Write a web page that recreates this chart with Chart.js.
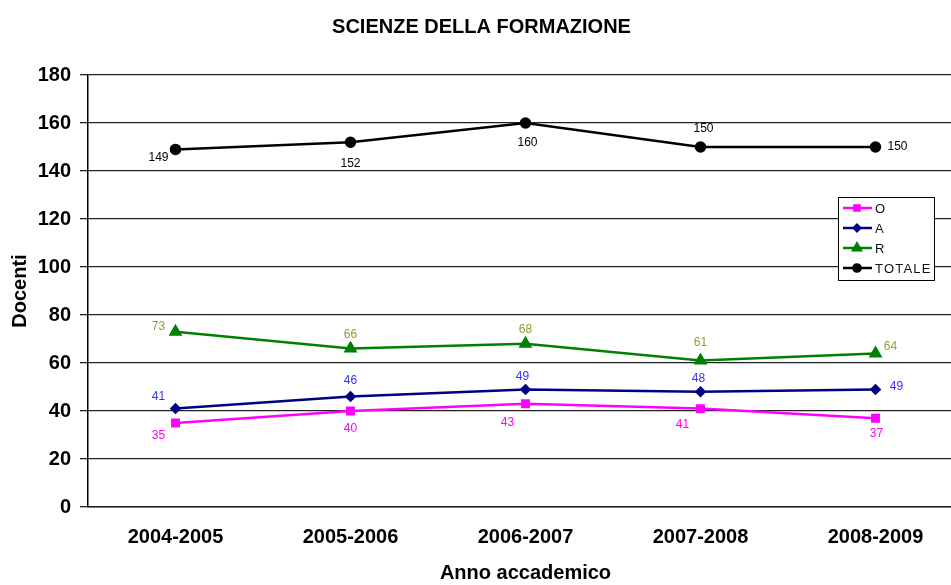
<!DOCTYPE html>
<html>
<head>
<meta charset="utf-8">
<script src="https://cdn.jsdelivr.net/npm/chart.js@4/dist/chart.umd.min.js"></script>
<style>
    html, body { margin: 0; padding: 0; background: #fff; overflow: hidden; }
    #wrap { width: 975px; height: 585px; }
</style>
</head>
<body>
<div id="wrap"><canvas id="docentiChart" width="975" height="585"></canvas></div>
<script>
// Dati del grafico
const anni = ['2004-2005', '2005-2006', '2006-2007', '2007-2008', '2008-2009'];
const serieO = [35, 40, 43, 41, 37];
const serieA = [41, 46, 49, 48, 49];
const serieR = [73, 66, 68, 61, 64];
const serieTotale = [149, 152, 160, 150, 150];

// spostamento delle etichette rispetto al punto (px)
const labelOffsets = {
    O: [[-17, 13], [0, 18], [-18, 19], [-18, 16], [1, 15]],
    A: [[-17, -12], [0, -16], [-3, -13], [-2, -13], [21, -3]],
    R: [[-17, -5], [0, -14], [0, -14], [0, -18], [15, -7]],
    TOTALE: [[-17, 8], [0, 21], [2, 20], [3, -18], [22, 0]]
};
const labelColors = { O: '#ff00ff', A: '#3333ff', R: '#999933', TOTALE: '#000000' };

const fontFamily = 'Arial, "Liberation Sans", sans-serif';

// Etichette dei valori
const valueLabels = {
    id: 'valueLabels',
    afterDatasetsDraw(chart) {
        const ctx = chart.ctx;
        ctx.save();
        ctx.font = '12px ' + fontFamily;
        ctx.textAlign = 'center';
        ctx.textBaseline = 'middle';
        chart.data.datasets.forEach((ds, i) => {
            const meta = chart.getDatasetMeta(i);
            ctx.fillStyle = labelColors[ds.label];
            meta.data.forEach((pt, j) => {
                const off = labelOffsets[ds.label][j];
                ctx.fillText(ds.data[j], pt.x + off[0], pt.y + off[1]);
            });
        });
        ctx.restore();
    }
};

// Legenda dentro l'area del grafico
const boxLegend = {
    id: 'boxLegend',
    afterDraw(chart) {
        const ctx = chart.ctx;
        const x = chart.chartArea.left + 750;
        const y = chart.chartArea.top + 122;
        const w = 96, h = 83;
        ctx.save();
        ctx.fillStyle = '#fff';
        ctx.fillRect(x, y, w, h);
        ctx.strokeStyle = '#000';
        ctx.lineWidth = 1;
        ctx.strokeRect(x + 0.5, y + 0.5, w, h);
        ctx.font = '13px ' + fontFamily;
        ctx.textBaseline = 'middle';
        chart.data.datasets.forEach((ds, i) => {
            const ly = y + 11 + i * 20;
            ctx.strokeStyle = ds.borderColor;
            ctx.lineWidth = 2.5;
            ctx.beginPath();
            ctx.moveTo(x + 5, ly);
            ctx.lineTo(x + 34, ly);
            ctx.stroke();
            Chart.helpers.drawPoint(ctx, {
                pointStyle: ds.pointStyle,
                radius: ds.pointRadius * 0.8,
                rotation: 0,
                borderWidth: 1
            }, x + 19, ly);
            ctx.fillStyle = ds.borderColor;
            ctx.fill();
            ctx.fillStyle = '#111';
            ctx.letterSpacing = ds.label.length > 1 ? '1.2px' : '0px';
            ctx.fillText(ds.label, x + 37, ly + 1);
        });
        ctx.restore();
    }
};

function makeSet(label, data, color, style, radius) {
    return {
        label: label,
        data: data,
        borderColor: color,
        backgroundColor: color,
        pointBackgroundColor: color,
        pointBorderColor: color,
        borderWidth: 2.5,
        pointStyle: style,
        pointRadius: radius,
        pointHoverRadius: radius,
        tension: 0,
        fill: false
    };
}

document.addEventListener('DOMContentLoaded', function() {
    const ctx = document.getElementById('docentiChart').getContext('2d');
    new Chart(ctx, {
        type: 'line',
        data: {
            labels: anni,
            datasets: [
                makeSet('O', serieO, '#ff00ff', 'rect', 4.5),
                makeSet('A', serieA, '#000080', 'rectRot', 4),
                makeSet('R', serieR, '#008000', 'triangle', 5.5),
                makeSet('TOTALE', serieTotale, '#000000', 'circle', 4.5)
            ]
        },
        options: {
            responsive: false,
            animation: false,
            layout: { padding: { left: 0, right: 12, top: 0, bottom: 0 } },
            plugins: {
                legend: { display: false },
                tooltip: { enabled: false },
                title: {
                    display: true,
                    text: 'SCIENZE DELLA FORMAZIONE',
                    color: '#000',
                    font: { family: fontFamily, size: 20, weight: 'bold' },
                    padding: { top: 15, bottom: 36 }
                }
            },
            scales: {
                x: {
                    offset: true,
                    grid: { display: false, drawTicks: false },
                    border: { display: true, color: '#222', width: 1.5 },
                    ticks: {
                        color: '#000',
                        padding: 18,
                        font: { family: fontFamily, size: 20, weight: 'bold' }
                    },
                    title: {
                        display: true,
                        text: 'Anno accademico',
                        color: '#000',
                        font: { family: fontFamily, size: 20, weight: 'bold' },
                        padding: { top: 12, bottom: 0 }
                    },
                    afterFit(scale) { scale.height = 78; }
                },
                y: {
                    min: 0,
                    max: 180,
                    grid: { color: '#222', lineWidth: 1.3, tickLength: 8 },
                    border: { display: true, color: '#000', width: 1.5 },
                    ticks: {
                        stepSize: 20,
                        color: '#000',
                        padding: 9,
                        font: { family: fontFamily, size: 20, weight: 'bold' }
                    },
                    title: {
                        display: true,
                        text: 'Docenti',
                        color: '#000',
                        font: { family: fontFamily, size: 20, weight: 'bold' },
                        padding: { top: 8, bottom: 4 }
                    },
                    afterFit(scale) { scale.width = 88; }
                }
            }
        },
        plugins: [valueLabels, boxLegend]
    });
});
</script>
</body>
</html>
